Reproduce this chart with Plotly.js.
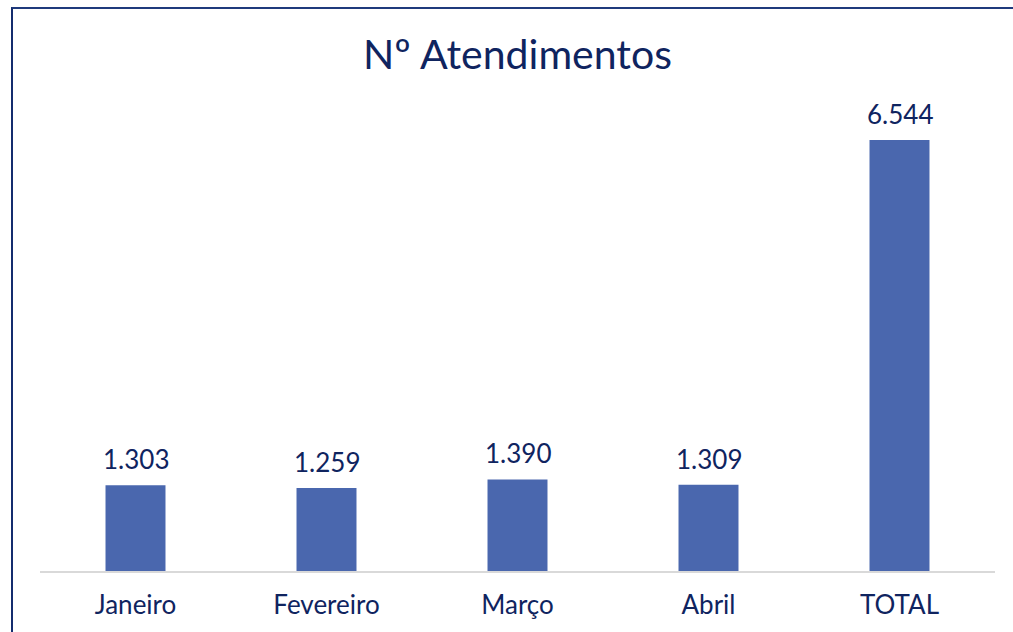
<!DOCTYPE html>
<html>
<head>
<meta charset="utf-8">
<script src="https://cdn.plot.ly/plotly-3.0.1.min.js"></script>
<style>
  html, body { margin: 0; padding: 0; background: #ffffff; }
  #chart { position: absolute; left: 0; top: 0; width: 1013px; height: 632px; }
  #frame { position: absolute; left: 11px; top: 7px; width: 1010px; height: 640px;
           border-left: 2px solid #142c6e; border-top: 2px solid #1f3a7c; pointer-events: none; }
</style>
</head>
<body>
<div id="chart"></div>
<div id="frame"></div>
<script>
const categories = ["Janeiro", "Fevereiro", "Março", "Abril", "TOTAL"];
const values = [1303, 1259, 1390, 1309, 6544];

function fmt(v) {
  return String(v).replace(/\B(?=(\d{3})+(?!\d))/g, ".");
}

const textColor = "#0f245f";
const fontFamily = "Lato, 'Noto Sans', sans-serif";

const trace = {
  type: "bar",
  x: categories,
  y: values,
  marker: { color: "#4a67ae" },
  hoverinfo: "skip"
};

const annotations = categories.map((c, i) => ({
  x: c,
  y: values[i],
  xref: "x",
  yref: "y",
  text: fmt(values[i]),
  showarrow: false,
  yanchor: "middle",
  yshift: 26,
  font: { family: fontFamily, size: 26, color: textColor }
}));

const layout = {
  width: 1013,
  height: 632,
  margin: { l: 40, r: 18, t: 110, b: 61 },
  paper_bgcolor: "#ffffff",
  plot_bgcolor: "#ffffff",
  bargap: 0.686,
  showlegend: false,
  title: {
    text: "Nº Atendimentos",
    font: { family: fontFamily, size: 41, color: textColor },
    x: 0.5,
    xref: "paper",
    y: 1 - 55 / 632,
    yref: "container",
    yanchor: "middle"
  },
  xaxis: {
    showline: true,
    linecolor: "#d9d9d9",
    linewidth: 2,
    ticks: "",
    showgrid: false,
    zeroline: false,
    tickfont: { family: fontFamily, size: 26, color: textColor },
    ticklabelstandoff: 10,
    fixedrange: true
  },
  yaxis: {
    visible: false,
    range: [0, 7000],
    showgrid: false,
    zeroline: false,
    fixedrange: true
  },
  annotations: annotations
};

Plotly.newPlot("chart", [trace], layout, { displayModeBar: false, staticPlot: true });
</script>
</body>
</html>
